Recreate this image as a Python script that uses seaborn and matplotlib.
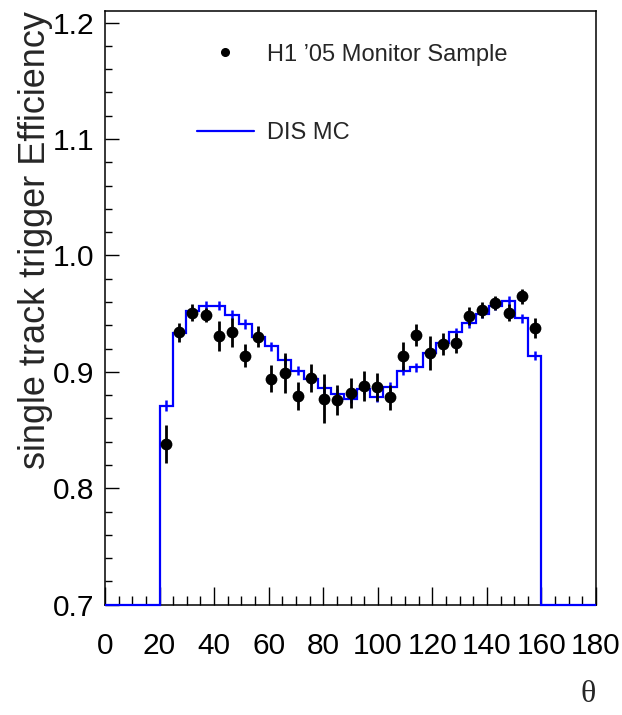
import numpy as np
import matplotlib
matplotlib.use("Agg")
import matplotlib.pyplot as plt
import seaborn as sns
from matplotlib.lines import Line2D
from matplotlib.ticker import MultipleLocator

# ---------------- data ----------------
theta_lo, theta_hi, n_bins = 20.0, 160.0, 29
axis_lo, axis_hi = 0.0, 180.0
theta_edges = np.linspace(theta_lo, theta_hi, n_bins + 1)
theta_centers = 0.5 * (theta_edges[:-1] + theta_edges[1:])

data_eff = [0.838, 0.934, 0.951, 0.949, 0.931, 0.934, 0.914, 0.930, 0.894, 0.899,
            0.879, 0.895, 0.877, 0.876, 0.882, 0.888, 0.887, 0.878, 0.914, 0.932,
            0.916, 0.924, 0.925, 0.948, 0.953, 0.959, 0.951, 0.965, 0.938]
data_err = [0.016, 0.008, 0.0075, 0.006, 0.013, 0.0125, 0.0098, 0.009, 0.0115, 0.017,
            0.012, 0.012, 0.021, 0.013, 0.013, 0.0126, 0.012, 0.011, 0.012, 0.0094,
            0.0147, 0.0096, 0.0086, 0.0076, 0.0068, 0.006, 0.0072, 0.0065, 0.0086]
mc_eff = [0.871, 0.933, 0.952, 0.957, 0.957, 0.949, 0.941, 0.930, 0.922, 0.910,
          0.901, 0.894, 0.886, 0.881, 0.877, 0.885, 0.878, 0.887, 0.901, 0.904,
          0.916, 0.925, 0.934, 0.942, 0.950, 0.957, 0.961, 0.946, 0.914]
mc_err = [0.0045, 0.004, 0.004, 0.004, 0.004, 0.004, 0.004, 0.004, 0.004, 0.004,
          0.004, 0.004, 0.004, 0.004, 0.004, 0.004, 0.004, 0.004, 0.004, 0.004,
          0.004, 0.004, 0.004, 0.004, 0.004, 0.004, 0.004, 0.004, 0.004]

x_ticks = [0, 20, 40, 60, 80, 100, 120, 140, 160, 180]
y_ticks = [0.7, 0.8, 0.9, 1.0, 1.1, 1.2]
y_lo, y_hi = 0.7, 1.21

data_label = "H1 \u201905 Monitor Sample"
mc_label = "DIS MC"
x_title = "\u03b8"
y_title = "single track trigger Efficiency"

# ---------------- style ----------------
sns.set_theme(style="ticks")
plt.rcParams["font.family"] = ["Liberation Sans", "DejaVu Sans"]

W, H = 622, 715
fig = plt.figure(figsize=(W / 100, H / 100), dpi=100)
ax = fig.add_axes([105 / W, 1 - 604.7 / H, 491 / W, 593.7 / H])

# MC histogram (full axis range, empty bins sit on the frame bottom)
full_edges = np.concatenate([[axis_lo], theta_edges, [axis_hi]])
full_vals = np.maximum(np.concatenate([[0.0], mc_eff, [0.0]]), y_lo)
ax.stairs(full_vals, full_edges, baseline=None, color="#0000ff", lw=1.6,
          zorder=6, clip_on=False)
ax.errorbar(theta_centers, mc_eff, yerr=mc_err, fmt="none", ecolor="#0000ff",
            elinewidth=1.8, capsize=0, zorder=6)

# data points
bin_w = theta_edges[1] - theta_edges[0]
ax.errorbar(theta_centers, data_eff, yerr=data_err, xerr=0.35 * bin_w, fmt="none",
            ecolor="black", elinewidth=2.0, capsize=0, zorder=7)
sns.scatterplot(x=theta_centers, y=data_eff, color="black", marker="o", s=72,
                edgecolor="black", linewidth=0, zorder=8, ax=ax, legend=False)

ax.set_xlim(axis_lo, axis_hi)
ax.set_ylim(y_lo, y_hi)
ax.set_xticks(x_ticks)
ax.set_xticklabels([str(t) for t in x_ticks])
ax.set_yticks(y_ticks)
ax.set_yticklabels([f"{t:.1f}" for t in y_ticks])
ax.xaxis.set_minor_locator(MultipleLocator(5))
ax.yaxis.set_minor_locator(MultipleLocator(0.02))

ax.tick_params(axis="both", which="both", direction="in", colors="black",
               top=False, right=False, width=1.0, labelsize=21.5)
ax.tick_params(axis="x", which="major", length=13, pad=20)
ax.tick_params(axis="x", which="minor", length=6.5)
ax.tick_params(axis="y", which="major", length=10, pad=8)
ax.tick_params(axis="y", which="minor", length=5)
for s in ax.spines.values():
    s.set_color("black")
    s.set_linewidth(1.1)
    s.set_visible(True)

ax.set_ylabel(y_title, fontsize=26, loc="top")
ax.yaxis.set_label_coords(-0.106, 1.0)
ax.set_xlabel(x_title, fontsize=23, family=["Liberation Serif", "DejaVu Serif"])
ax.xaxis.set_label_coords((588 - 105) / 491, -0.127)

handles = [
    Line2D([], [], marker="o", ls="none", color="black", markersize=5.5),
    Line2D([], [], color="#0000ff", lw=1.6),
]
ax.legend(handles, [data_label, mc_label], loc="upper left",
          bbox_to_anchor=((197 - 105) / 491, 0.945), frameon=False,
          fontsize=17, handlelength=2.4, handletextpad=0.55,
          labelspacing=2.4, borderpad=0, borderaxespad=0)

fig.savefig("out.png", dpi=100, facecolor="white")
